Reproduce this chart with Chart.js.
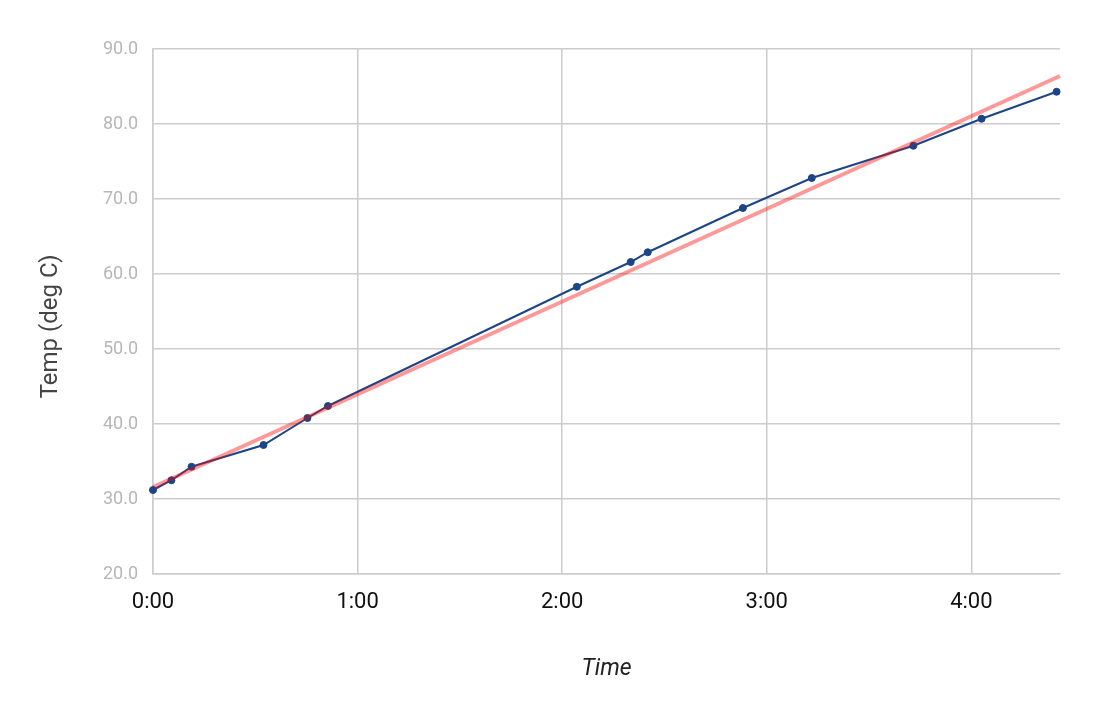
<!DOCTYPE html>
<html>
<head>
<meta charset="utf-8">
<title>Temp vs Time</title>
<script src="https://cdn.jsdelivr.net/npm/chart.js@4.4.1/dist/chart.umd.min.js"></script>
<style>
  body { margin: 0; background: #fff; }
  #wrap { width: 1096px; height: 718px; }
</style>
</head>
<body>
<div id="wrap"><canvas id="mycanvas" width="1096" height="718"></canvas></div>
<script>
// time in seconds, temperature in deg C
var times = [0, 5.4, 11.3, 32.4, 45.3, 51.3, 124.3, 140.1, 145.1, 173.0, 193.2, 223.0, 243.0, 265.0];
var temps = [31.2, 32.5, 34.3, 37.2, 40.8, 42.4, 58.3, 61.6, 62.9, 68.8, 72.8, 77.1, 80.7, 84.3];

// trendline end points
var trendTimes = [0, 266];
var trendTemps = [31.6, 86.4];

var xTicks = [0, 60, 120, 180, 240];
var yTicks = [20, 30, 40, 50, 60, 70, 80, 90];

function toPoints(xs, ys) {
  var pts = [];
  for (var i in xs) {
    pts.push({ x: xs[i], y: ys[i] });
  }
  return pts;
}

function fmtTime(v) {
  var m = Math.floor(v / 60);
  var s = Math.round(v % 60);
  return m + ':' + (s < 10 ? '0' : '') + s;
}

var gridColor = '#cccccc';

var chartdata = {
  datasets: [
    {
      label: 'Trendline',
      data: toPoints(trendTimes, trendTemps),
      borderColor: 'rgba(255, 0, 0, 0.4)',
      borderWidth: 4,
      pointRadius: 0,
      showLine: true,
      clip: false,
      order: 0
    },
    {
      label: 'Temp',
      data: toPoints(times, temps),
      borderColor: '#1c4587',
      backgroundColor: '#1c4587',
      borderWidth: 2,
      pointRadius: 3.5,
      pointBorderWidth: 1,
      showLine: true,
      clip: false,
      order: 1
    }
  ]
};

var ctx = document.getElementById('mycanvas');

var chart = new Chart(ctx, {
  type: 'scatter',
  data: chartdata,
  options: {
    responsive: false,
    animation: false,
    layout: { padding: { left: 0, right: 36, top: 49, bottom: 0 } },
    plugins: {
      legend: { display: false },
      tooltip: { enabled: false }
    },
    scales: {
      x: {
        type: 'linear',
        min: 0,
        max: 266,
        afterBuildTicks: function (scale) {
          scale.ticks = xTicks.map(function (v) { return { value: v }; });
        },
        afterFit: function (scale) { scale.height = 144; },
        grid: { color: gridColor, lineWidth: 1.5, drawTicks: false },
        border: { color: gridColor, width: 1.5 },
        ticks: {
          padding: 15,
          color: '#111',
          font: { family: 'Roboto', size: 22 },
          callback: function (v) { return fmtTime(v); }
        },
        title: {
          display: true,
          text: 'Time',
          color: '#222',
          font: { family: 'Roboto', size: 23, style: 'italic' },
          padding: { top: 0, bottom: 35 }
        }
      },
      y: {
        min: 20,
        max: 90,
        afterBuildTicks: function (scale) {
          scale.ticks = yTicks.map(function (v) { return { value: v }; });
        },
        afterFit: function (scale) { scale.width = 153; },
        grid: { color: gridColor, lineWidth: 1.5, drawTicks: false },
        border: { color: gridColor, width: 1.5 },
        ticks: {
          padding: 15,
          color: '#b7b7b7',
          font: { family: 'Roboto', size: 18 },
          callback: function (v) { return v.toFixed(1); }
        },
        title: {
          display: true,
          text: 'Temp (deg C)     ',
          color: '#444',
          font: { family: 'Roboto', size: 24 },
          padding: { top: 37, bottom: 0 }
        }
      }
    }
  }
});
</script>
</body>
</html>
